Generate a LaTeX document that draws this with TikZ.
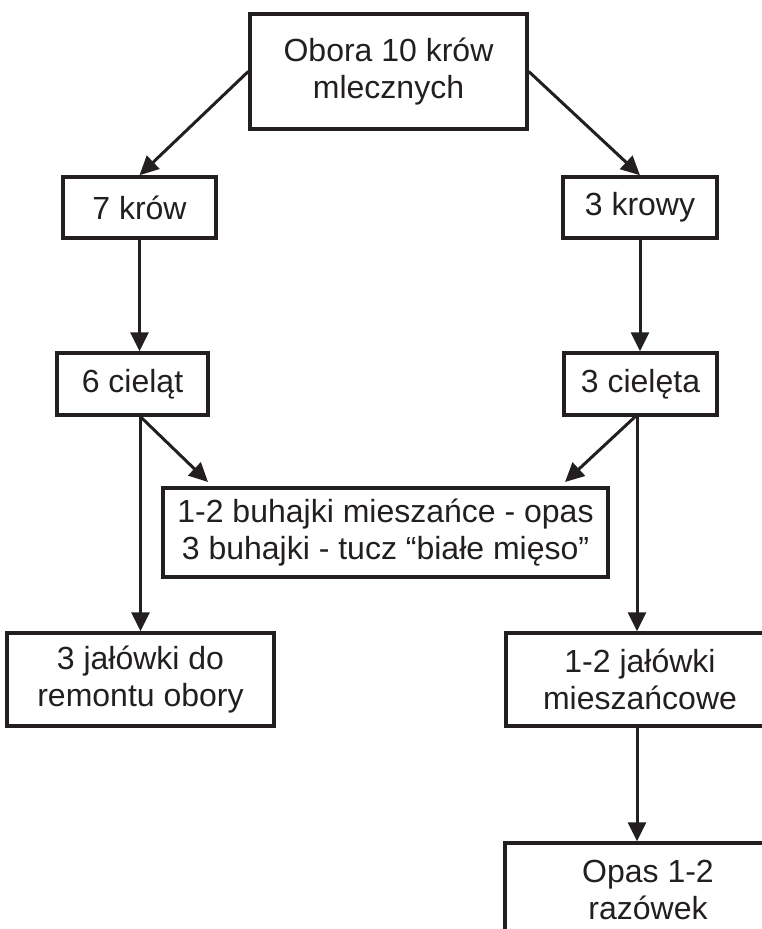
\documentclass[tikz,border=0pt]{standalone}
\usepackage{fontspec}
\setmainfont{Liberation Sans}
\usetikzlibrary{arrows.meta}
\definecolor{ink}{RGB}{35,31,32}
\tikzset{
	box/.style={draw=ink,line width=3.5pt,inner sep=0pt,align=center,text=ink,
		font=\fontsize{32}{37}\selectfont}
}
\begin{document}
\begin{tikzpicture}[
	x=1pt,y=-1pt,
	>={Triangle[length=19pt,width=18pt]},
	line width=3pt,
	line join=miter
	]
	\useasboundingbox (0,0) rectangle (762,929);
	\clip (0,0) rectangle (762,929);
	% boxes
	\node[box,minimum width=277pt,minimum height=115pt] (obora) at (388.5,71.5) {Obora 10 krów\\mlecznych};
	\node[box,minimum width=153pt,minimum height=61pt] (krow7) at (139.5,207.5) {7 krów};
	\node[box,minimum width=154pt,minimum height=61pt] (krowy3) at (640,207.5) {3 krowy};
	\node[box,minimum width=151pt,minimum height=62pt] (cielat6) at (132.5,384) {6 cieląt};
	\node[box,minimum width=153pt,minimum height=62pt] (cieleta3) at (640.5,384) {3 cielęta};
	\node[box,minimum width=445pt,minimum height=89pt] (buhajki) at (385.5,532.5) {1-2 buhajki mieszańce - opas\\3 buhajki - tucz “białe mięso”};
	\node[box,minimum width=267pt,minimum height=93pt] (jalowki3) at (140.5,679.5) {3 jałówki do\\remontu obory};
	\node[box,minimum width=268pt,minimum height=93pt] (jalowki12) at (640,679.5) {1-2 jałówki\\mieszańcowe};
	\node[box,minimum width=286pt,minimum height=93pt] (opas) at (648,889.5) {Opas 1-2\\razówek};
	\coordinate (lewy) at (jalowki3.north |- cielat6.south);
	\coordinate (prawy) at (637,415);
	\coordinate (buhL) at (208,482);
	\coordinate (buhP) at (565,482);
	\begin{scope}[->,ink]
		\draw (obora.west) -- (krow7.north);
		\draw (obora.east) -- (krowy3.north);
		\draw (krow7.south) -- (krow7.south |- cielat6.north);
		\draw (krowy3.south) -- (krowy3.south |- cieleta3.north);
		\draw (lewy) -- (buhL);
		\draw (prawy) -- (buhP);
		\draw (lewy) -- (jalowki3.north);
		\draw (prawy) -- (prawy |- jalowki12.north);
		\draw (jalowki12.south -| prawy) -- (prawy |- opas.north);
	\end{scope}
\end{tikzpicture}
\end{document}
